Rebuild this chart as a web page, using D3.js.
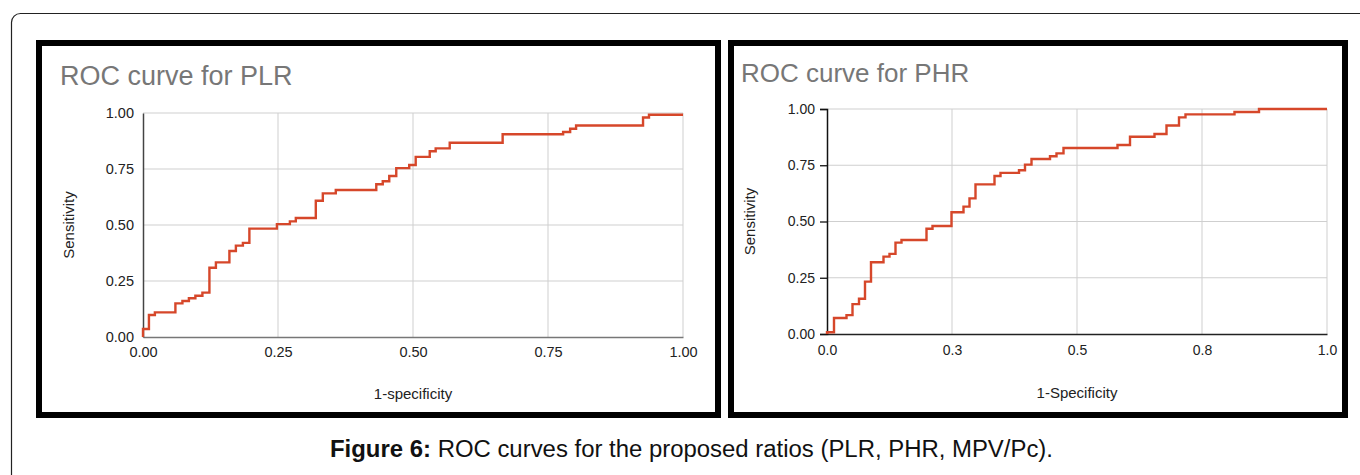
<!DOCTYPE html>
<html>
<head>
<meta charset="utf-8">
<script src="https://cdn.jsdelivr.net/npm/d3@7"></script>
<style>
  body { margin: 0; background: #fff; }
  svg { display: block; }
  text { font-family: "Liberation Sans", Arial, sans-serif; }
</style>
</head>
<body>
<script>
// ROC curve for PLR: step corners (1-specificity, sensitivity)
const plrFpr = [0, 0, 0.011, 0.022, 0.06, 0.073, 0.085, 0.097, 0.11, 0.123, 0.135, 0.16, 0.172, 0.185, 0.197,
  0.248, 0.272, 0.283, 0.32, 0.333, 0.357, 0.432, 0.444, 0.456, 0.469, 0.493, 0.505, 0.531, 0.542, 0.568,
  0.666, 0.778, 0.791, 0.802, 0.926, 0.937, 1.0];
const plrTpr = [0, 0.036, 0.098, 0.11, 0.15, 0.161, 0.173, 0.184, 0.198, 0.309, 0.333, 0.384, 0.408, 0.42, 0.484,
  0.504, 0.516, 0.531, 0.608, 0.641, 0.656, 0.682, 0.695, 0.719, 0.754, 0.768, 0.804, 0.829, 0.842, 0.867,
  0.905, 0.915, 0.93, 0.944, 0.98, 0.992, 0.992];

// ROC curve for PHR
const phrFpr = [0, 0, 0.014, 0.039, 0.051, 0.064, 0.076, 0.088, 0.113, 0.125, 0.137, 0.149, 0.199, 0.211, 0.249,
  0.273, 0.285, 0.297, 0.335, 0.347, 0.384, 0.396, 0.409, 0.446, 0.459, 0.473, 0.581, 0.606, 0.655, 0.679,
  0.704, 0.717, 0.815, 0.864, 1.0];
const phrTpr = [0, 0.008, 0.071, 0.084, 0.133, 0.157, 0.233, 0.319, 0.344, 0.356, 0.406, 0.418, 0.468, 0.48, 0.541,
  0.566, 0.603, 0.665, 0.702, 0.716, 0.728, 0.753, 0.778, 0.79, 0.803, 0.827, 0.84, 0.877, 0.889, 0.927,
  0.963, 0.976, 0.987, 1.0, 1.0];

const tickValues = [0, 0.25, 0.5, 0.75, 1];
const plrXLabels = ["0.00", "0.25", "0.50", "0.75", "1.00"];
const plrYLabels = ["0.00", "0.25", "0.50", "0.75", "1.00"];
const phrXLabels = ["0.0", "0.3", "0.5", "0.8", "1.0"];
const phrYLabels = ["0.00", "0.25", "0.50", "0.75", "1.00"];

const w = 1360, h = 475;
const curveColor = "#d6472a";

const svg = d3.select("body").append("svg")
  .attr("width", w)
  .attr("height", h);

// outer page box
svg.append("rect")
  .attr("x", 11.5).attr("y", 13.5)
  .attr("width", 1400).attr("height", 500)
  .attr("rx", 9)
  .attr("fill", "none")
  .attr("stroke", "#222")
  .attr("stroke-width", 1.2);

function drawPanel(opt) {
  const g = svg.append("g");

  // thick black frame
  g.append("rect")
    .attr("x", opt.frame[0]).attr("y", opt.frame[1])
    .attr("width", opt.frame[2]).attr("height", opt.frame[3])
    .attr("fill", "#fff")
    .attr("stroke", "#000")
    .attr("stroke-width", 6);

  g.append("text")
    .attr("x", opt.titleX).attr("y", opt.titleY)
    .attr("fill", "#777")
    .style("font-size", opt.titleSize + "px")
    .text(opt.title);

  const x = d3.scaleLinear().domain([0, 1]).range(opt.xRange);
  const y = d3.scaleLinear().domain([0, 1]).range(opt.yRange);

  // grid
  g.append("g")
    .selectAll("line.vg")
    .data(tickValues.slice(1))
    .enter().append("line")
      .attr("x1", d => x(d)).attr("x2", d => x(d))
      .attr("y1", y(0)).attr("y2", y(1))
      .attr("stroke", "#cfcfcf").attr("stroke-width", 1);
  g.append("g")
    .selectAll("line.hg")
    .data(tickValues.slice(1))
    .enter().append("line")
      .attr("x1", x(0)).attr("x2", x(1))
      .attr("y1", d => y(d)).attr("y2", d => y(d))
      .attr("stroke", "#cfcfcf").attr("stroke-width", 1);

  // axes
  const xAxis = d3.axisBottom(x)
    .tickValues(tickValues)
    .tickSize(0)
    .tickPadding(opt.xPad)
    .tickFormat((d, i) => opt.xLabels[i]);
  const yAxis = d3.axisLeft(y)
    .tickValues(tickValues)
    .tickSize(opt.yTick)
    .tickPadding(opt.yPad)
    .tickFormat((d, i) => opt.yLabels[i]);

  const xg = g.append("g")
    .attr("transform", "translate(0," + y(0) + ")")
    .call(xAxis);
  xg.select(".domain").attr("stroke", opt.xAxisColor).attr("stroke-width", 1.5);
  xg.selectAll("text").style("font-size", opt.tickSize + "px").attr("fill", "#222");

  const yg = g.append("g")
    .attr("transform", "translate(" + x(0) + ",0)")
    .call(yAxis);
  yg.select(".domain").attr("stroke", opt.yAxisColor).attr("stroke-width", 1.5);
  yg.selectAll(".tick line").attr("stroke", "#111").attr("stroke-width", 1.3);
  yg.selectAll("text").style("font-size", opt.tickSize + "px").attr("fill", "#222");

  // axis titles
  g.append("text")
    .attr("x", (opt.xRange[0] + opt.xRange[1]) / 2)
    .attr("y", opt.xTitleY)
    .attr("text-anchor", "middle")
    .attr("fill", "#222")
    .style("font-size", opt.axisTitleSize + "px")
    .text(opt.xTitle);
  g.append("text")
    .attr("transform", "translate(" + opt.yTitleX + "," + (opt.yRange[0] + opt.yRange[1]) / 2 + ") rotate(-90)")
    .attr("text-anchor", "middle")
    .attr("fill", "#222")
    .style("font-size", opt.axisTitleSize + "px")
    .text("Sensitivity");

  // ROC step curve
  const pts = opt.fpr.map((f, i) => [f, opt.tpr[i]]);
  const line = d3.line()
    .x(d => x(d[0]))
    .y(d => y(d[1]))
    .curve(d3.curveStepAfter);
  g.append("path")
    .datum(pts)
    .attr("d", line)
    .attr("fill", "none")
    .attr("stroke", curveColor)
    .attr("stroke-width", 2.4);
}

drawPanel({
  frame: [39, 43, 679, 372],
  title: "ROC curve for PLR", titleX: 60, titleY: 85, titleSize: 27,
  xRange: [143, 683], yRange: [337, 113],
  xLabels: plrXLabels, yLabels: plrYLabels,
  xPad: 10, yPad: 9, yTick: 0, tickSize: 14.5,
  xAxisColor: "#777", yAxisColor: "#444",
  xTitle: "1-specificity", xTitleY: 399, yTitleX: 74, axisTitleSize: 15,
  fpr: plrFpr, tpr: plrTpr
});

drawPanel({
  frame: [731, 43, 614, 372],
  title: "ROC curve for PHR", titleX: 741, titleY: 82, titleSize: 26,
  xRange: [827, 1327], yRange: [334, 109],
  xLabels: phrXLabels, yLabels: phrYLabels,
  xPad: 11, yPad: 5, yTick: 7, tickSize: 14,
  xAxisColor: "#222", yAxisColor: "#111",
  xTitle: "1-Specificity", xTitleY: 398, yTitleX: 755, axisTitleSize: 15,
  fpr: phrFpr, tpr: phrTpr
});

// figure caption
const cap = svg.append("text")
  .attr("x", 330).attr("y", 457)
  .attr("textLength", 723)
  .attr("lengthAdjust", "spacingAndGlyphs")
  .attr("fill", "#111")
  .style("font-size", "23px");
cap.append("tspan").attr("font-weight", "bold").text("Figure 6:");
cap.append("tspan").text(" ROC curves for the proposed ratios (PLR, PHR, MPV/Pc).");
</script>
</body>
</html>
